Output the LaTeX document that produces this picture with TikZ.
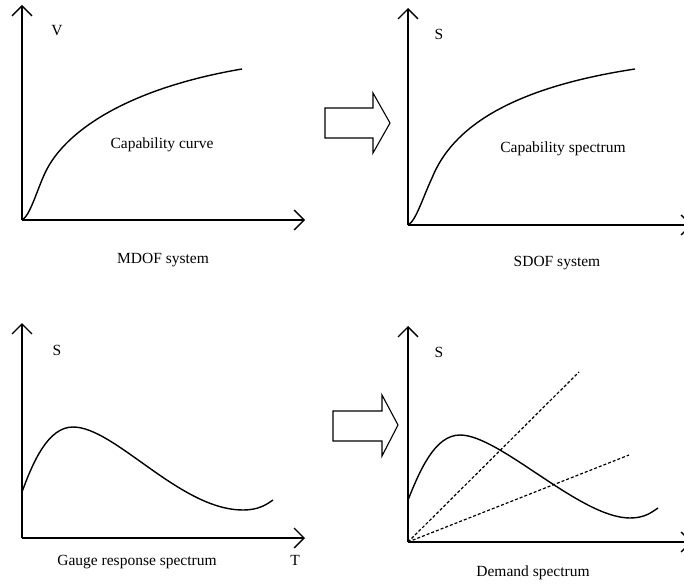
\documentclass[tikz,border=0pt]{standalone}
\usepackage{fontspec}
\setmainfont{Liberation Serif}
\usetikzlibrary{arrows.meta}
\begin{document}
\begin{tikzpicture}[x=1pt,y=-1pt,
  axis/.style={line width=1.3pt,-{Straight Barb[length=10pt,width=20pt,line width=1.3pt]}},
  curve/.style={line width=1.4pt},
  dline/.style={line width=1.2pt,dash pattern=on 3pt off 2pt},
  lbl/.style={font=\fontsize{15.5}{18}\selectfont,inner sep=0pt},
  barrow/.style={line width=1.1pt}]
\clip (0,0) rectangle (684,583);
\fill[white] (0,0) rectangle (684,583);
% --- panel 1
\coordinate (o1) at (22,220);
\coordinate (y1) at (22,5);
\coordinate (x1) at (305,220);
\draw[axis] (o1) -- (y1);
\draw[axis] (o1) -- (x1);
\node[lbl] (v1) at (57,31) {V};
\draw[curve] (o1) .. controls (30,216) and (37,190) .. (45,173) .. controls (65,130) and (130,88) .. (242,69);
\node[lbl] (cc) at (162,145) {Capability curve};
\node[lbl] (mdof) at (163,260) {MDOF system};
% --- panel 2
\coordinate (o2) at (408,225);
\coordinate (y2) at (408,8);
\coordinate (x2) at (692,225);
\draw[axis] (o2) -- (y2);
\draw[axis] (o2) -- (x2);
\node[lbl] (s2) at (439,34) {S};
\draw[curve] (o2) .. controls (416,221) and (423,197) .. (432,178) .. controls (452,128) and (510,88) .. (635,69);
\node[lbl] (cs) at (563,149) {Capability spectrum};
\node[lbl] (sdof) at (557,263) {SDOF system};
% block arrow 1
\draw[barrow] (325,108) -- (373,108) -- (373,93) -- (390,123) -- (373,153) -- (373,138) -- (325,138) -- cycle;
% --- panel 3
\coordinate (o3) at (22,538);
\coordinate (y3) at (22,323);
\coordinate (x3) at (305,538);
\draw[axis] (o3) -- (y3);
\draw[axis] (o3) -- (x3);
\node[lbl] (s3) at (57,350) {S};
\node[lbl] (t3) at (295,560) {T};
\draw[curve] (22,492) .. controls (33,462) and (48,427) .. (73,427) .. controls (115,427) and (180,510) .. (243,510) .. controls (258,510) and (266,505) .. (273,500);
\node[lbl] (grs) at (137,562) {Gauge response spectrum};
% --- panel 4
\coordinate (o4) at (408,542);
\coordinate (y4) at (408,326);
\coordinate (x4) at (692,542);
\draw[axis] (o4) -- (y4);
\draw[axis] (o4) -- (x4);
\node[lbl] (s4) at (439,352) {S};
\draw[curve] (408,500) .. controls (420,470) and (435,435) .. (460,435) .. controls (500,435) and (580,518) .. (630,518) .. controls (645,518) and (652,512) .. (658,508);
\coordinate (d1) at (579,372);
\coordinate (d2) at (629,455);
\draw[dline] (o4) -- (d1);
\draw[dline] (o4) -- (d2);
\node[lbl] (ds) at (533,573) {Demand spectrum};
% block arrow 2
\draw[barrow] (333,411) -- (382,411) -- (382,395) -- (398,425) -- (382,456) -- (382,441) -- (333,441) -- cycle;
\end{tikzpicture}
\end{document}
